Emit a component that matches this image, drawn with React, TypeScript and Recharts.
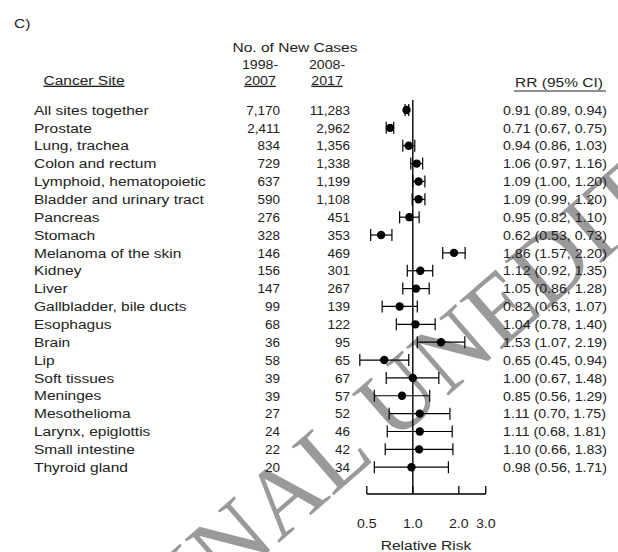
import React from "react"
import { ScatterChart, Scatter, XAxis, YAxis, ErrorBar, ReferenceLine } from "recharts"

const sites = [
  "All sites together", "Prostate", "Lung, trachea", "Colon and rectum",
  "Lymphoid, hematopoietic", "Bladder and urinary tract", "Pancreas", "Stomach",
  "Melanoma of the skin", "Kidney", "Liver", "Gallbladder, bile ducts", "Esophagus",
  "Brain", "Lip", "Soft tissues", "Meninges", "Mesothelioma", "Larynx, epiglottis",
  "Small intestine", "Thyroid gland",
]
const cases1998 = [7170, 2411, 834, 729, 637, 590, 276, 328, 146, 156, 147, 99, 68, 36, 58, 39, 39, 27, 24, 22, 20]
const cases2008 = [11283, 2962, 1356, 1338, 1199, 1108, 451, 353, 469, 301, 267, 139, 122, 95, 65, 67, 57, 52, 46, 42, 34]
const rr = [0.91, 0.71, 0.94, 1.06, 1.09, 1.09, 0.95, 0.62, 1.86, 1.12, 1.05, 0.82, 1.04, 1.53, 0.65, 1.0, 0.85, 1.11, 1.11, 1.1, 0.98]
const ciLow = [0.89, 0.67, 0.86, 0.97, 1.0, 0.99, 0.82, 0.53, 1.57, 0.92, 0.86, 0.63, 0.78, 1.07, 0.45, 0.67, 0.56, 0.7, 0.68, 0.66, 0.56]
const ciHigh = [0.94, 0.75, 1.03, 1.16, 1.2, 1.2, 1.1, 0.73, 2.2, 1.35, 1.28, 1.07, 1.4, 2.19, 0.94, 1.48, 1.29, 1.75, 1.81, 1.83, 1.71]
const xTicks = [0.5, 1, 2, 3]

const rows = sites.map((site, i) => ({
  row: i,
  site,
  rr: rr[i],
  err: [rr[i] - ciLow[i], ciHigh[i] - rr[i]],
}))

const FONT = "'Liberation Sans', Arial, sans-serif"
const INK = "#222"
const fmtN = (n: number) => n.toLocaleString("en-US")

// text that is a bit wider than Arial, like the scanned figure
function T({ x, y, sx = 1.15, anchor = "start", underline = false, size = 13.5, children }: any) {
  return (
    <text
      transform={`translate(${x},${y}) scale(${sx},1)`}
      dy="0.35em"
      textAnchor={anchor}
      fontSize={size}
      fontFamily={FONT}
      fill={INK}
      textDecoration={underline ? "underline" : undefined}
    >
      {children}
    </text>
  )
}

function RowTick(props: any) {
  const i = props.payload.value
  const y = props.y
  return (
    <g>
      <T x={34} y={y}>{sites[i]}</T>
      <T x={280} y={y} sx={1} anchor="end">{fmtN(cases1998[i])}</T>
      <T x={350} y={y} sx={1} anchor="end">{fmtN(cases2008[i])}</T>
      <T x={503} y={y} sx={1.05}>
        {`${rr[i].toFixed(2)} (${ciLow[i].toFixed(2)}, ${ciHigh[i].toFixed(2)})`}
      </T>
    </g>
  )
}

function RiskTick(props: any) {
  const { x, y, payload } = props
  return (
    <g>
      <line x1={x} x2={x} y1={y} y2={y - 8} stroke="#000" strokeWidth={1.3} />
      <T x={x} y={y + 29} sx={1.05} anchor="middle">{payload.value.toFixed(1)}</T>
    </g>
  )
}

const Dot = (p: any) => <circle cx={p.cx} cy={p.cy} r={4.2} fill="#000" />

export default function App() {
  return (
    <div style={{ position: "absolute", left: 0, top: 0, width: 618, height: 552, background: "#fff" }}>
      <svg width={618} height={552} style={{ position: "absolute", left: 0, top: 0 }}>
        <text
          transform="translate(159,647) rotate(-41)"
          fontSize={98}
          fontFamily="'Liberation Serif', 'Times New Roman', serif"
          fill="#9a9a9a"
        >
          FINAL UNEDITED
        </text>
      </svg>
      <div style={{ position: "absolute", left: 0, top: 0 }}>
        <ScatterChart width={618} height={552} margin={{ top: 100, right: 128, bottom: 28, left: 52 }}>
          <XAxis
            type="number"
            dataKey="rr"
            scale="log"
            domain={[0.4, 3.2]}
            allowDataOverflow
            ticks={xTicks}
            interval={0}
            height={30}
            axisLine={false}
            tickLine={false}
            tickSize={0}
            tickMargin={0}
            tick={<RiskTick />}
          />
          <YAxis
            type="number"
            dataKey="row"
            domain={[-0.56, 21.5]}
            allowDataOverflow
            reversed
            ticks={rows.map((r) => r.row)}
            interval={0}
            width={300}
            axisLine={false}
            tickLine={false}
            tick={<RowTick />}
          />
          <ReferenceLine x={1} stroke="#000" strokeWidth={1.4} />
          <ReferenceLine
            segment={[{ x: 0.5, y: 21.5 }, { x: 3, y: 21.5 }]}
            stroke="#000"
            strokeWidth={1.4}
          />
          <Scatter data={rows} shape={<Dot />} isAnimationActive={false}>
            <ErrorBar dataKey="err" direction="x" width={6} stroke="#000" strokeWidth={1.2} />
          </Scatter>
        </ScatterChart>
      </div>
      <svg width={618} height={552} style={{ position: "absolute", left: 0, top: 0, pointerEvents: "none" }}>
        <T x={14} y={23}>C)</T>
        <T x={295} y={47} anchor="middle">No. of New Cases</T>
        <T x={260} y={64} sx={1.05} anchor="middle">1998-</T>
        <T x={327} y={64} sx={1.05} anchor="middle">2008-</T>
        <T x={260} y={80} sx={1.05} anchor="middle" underline>2007</T>
        <T x={327} y={80} sx={1.05} anchor="middle" underline>2017</T>
        <T x={84} y={80} anchor="middle" underline>Cancer Site</T>
        <T x={559} y={82} anchor="middle">RR (95% CI)</T>
        <line x1={514} x2={606} y1={91} y2={91} stroke={INK} strokeWidth={1.2} />
        <T x={426} y={545} anchor="middle">Relative Risk</T>
      </svg>
    </div>
  )
}
